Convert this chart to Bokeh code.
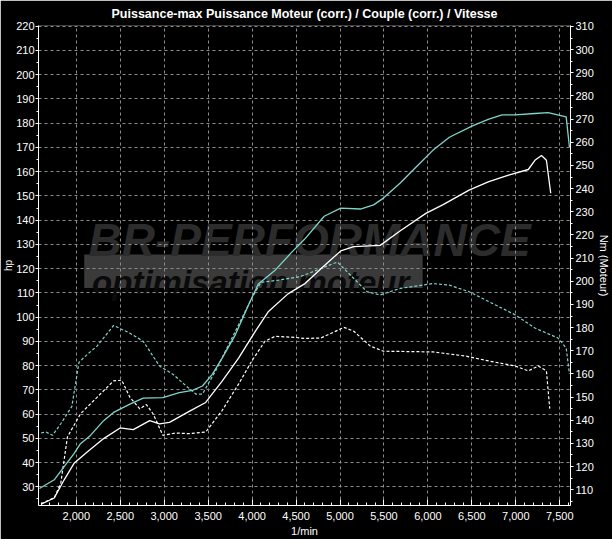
from bokeh.plotting import figure
from bokeh.models import Range1d, LinearAxis, FixedTicker, NumeralTickFormatter, Title
from bokeh.embed import file_html
from bokeh.resources import INLINE
from bokeh.core.properties import value

# ---------------- data ----------------
title_text = "Puissance-max Puissance Moteur (corr.) / Couple (corr.) / Vitesse"
x_label = "1/min"
left_label = "hp"
right_label = "Nm (Moteur)"
rpm_ticks = [2000, 2500, 3000, 3500, 4000, 4500, 5000, 5500, 6000, 6500, 7000, 7500]
hp_ticks = [30, 40, 50, 60, 70, 80, 90, 100, 110, 120, 130, 140, 150, 160, 170, 180, 190, 200, 210, 220]
nm_ticks = [110, 120, 130, 140, 150, 160, 170, 180, 190, 200, 210, 220, 230, 240, 250, 260, 270, 280, 290, 300, 310]

# tuned power (cyan, solid) - hp
rpm_pw_tuned = [1581, 1749, 1862, 1974, 2048, 2161, 2311, 2424, 2610, 2761, 2985, 3172, 3322, 3435, 3547,
                3659, 3809, 3958, 4071, 4258, 4446, 4596, 4820, 5008, 5232, 5382, 5494, 5682, 5869, 6056,
                6244, 6506, 6693, 6843, 6993, 7217, 7367, 7573, 7610]
hp_tuned = [29.3, 32.9, 38.3, 43.7, 47.8, 51.2, 57.3, 60.7, 64.1, 66.6, 66.8, 68.9, 69.8, 71.6, 76.4,
            83.1, 92.7, 104.9, 113.7, 119.2, 126.6, 132.1, 141.6, 145.0, 144.6, 146.3, 149.1, 155.2, 162.0, 168.8,
            174.2, 178.9, 181.7, 183.4, 183.4, 184.0, 184.4, 182.6, 170.1]

# stock power (white, solid) - hp
rpm_pw_stock = [1599, 1749, 1862, 1974, 2124, 2311, 2498, 2648, 2835, 2947, 3060, 3284, 3472, 3659, 3846,
                4034, 4183, 4408, 4596, 4820, 5008, 5157, 5457, 5682, 5981, 6168, 6468, 6693, 6918, 7142,
                7217, 7292, 7348, 7397]
hp_stock = [22.8, 25.4, 32.9, 39.7, 44.4, 49.9, 54.3, 53.6, 57.3, 56.0, 56.6, 61.1, 64.8, 73.6, 83.1,
            94.0, 102.2, 109.6, 113.7, 121.2, 127.3, 129.1, 129.6, 135.5, 142.9, 146.3, 152.4, 155.9, 158.6, 160.9,
            164.7, 166.7, 164.7, 151.1]

# tuned torque (cyan, dashed) - Nm
rpm_tq_tuned = [1599, 1655, 1730, 1824, 1950, 2030, 2124, 2236, 2424, 2610, 2761, 2947, 3098, 3247, 3360,
                3435, 3584, 3809, 4000, 4100, 4300, 4550, 4780, 4970, 5120, 5307, 5457, 5682, 6056, 6244,
                6468, 6693, 6993, 7217, 7480, 7573, 7610]
nm_tuned = [134.5, 134.9, 133.5, 138.5, 146.0, 165.0, 168.4, 172.0, 180.9, 177.6, 174.1, 163.4, 159.9, 154.9, 151.3,
            151.3, 161.3, 178.4, 193.0, 199.5, 200.5, 202.0, 205.5, 208.3, 202.6, 195.5, 194.1, 196.9, 199.0, 198.3,
            195.5, 191.2, 185.5, 179.8, 175.5, 171.2, 160.0]

# stock torque (white, dashed) - Nm
rpm_tq_stock = [1599, 1749, 1824, 1899, 2048, 2236, 2424, 2517, 2610, 2722, 2797, 2873, 2985, 3135, 3284,
                3472, 3659, 3846, 3997, 4146, 4258, 4483, 4596, 4783, 5045, 5157, 5345, 5494, 6056, 6430,
                6693, 6993, 7142, 7255, 7348, 7386]
nm_stock = [104.0, 106.5, 112.9, 132.8, 142.8, 149.9, 157.0, 157.3, 149.9, 144.9, 146.8, 142.8, 133.5, 134.5, 134.2,
            134.9, 144.2, 155.6, 165.6, 174.1, 176.2, 175.8, 175.3, 175.5, 180.1, 178.4, 172.0, 169.8, 169.5, 167.7,
            165.6, 163.4, 161.3, 163.4, 161.3, 145.0]

# watermark texts
wm_big = "BR-PERFORMANCE"
wm_small = "optimisation moteur"

# ---------------- styling ----------------
FONT = "Liberation Sans"
CYAN = "#7fd4cb"
GRID = "#8c8c8c"
Y_LO, Y_HI = 22.3, 220.3

p = figure(width=612, height=539, output_backend="svg", toolbar_location=None,
           x_range=Range1d(1570, 7622), y_range=Range1d(Y_LO, Y_HI),
           background_fill_color="black", border_fill_color="black",
           outline_line_color=None,
           min_border_left=31, min_border_right=0, min_border_top=21, min_border_bottom=33)
p.extra_y_ranges = {"nm": Range1d(103.2, 310.4)}

p.title.text = title_text
p.title.text_color = "white"
p.title.align = "center"
p.title.text_font = FONT
p.title.text_font_size = "12.5px"
p.title.text_font_style = "bold"
p.title.standoff = 9

# left axis title as a side title (compact)
p.add_layout(Title(text=left_label, align="center", text_color="white", text_font=FONT,
                   text_font_size="10px", text_font_style="normal", standoff=0), "left")

# watermark (below grid)
p.quad(left=[2090], right=[5940], bottom=[112.0], top=[125.8], fill_color="#3a3a3a",
       line_color=None, level="image")
p.text(x=[2140], y=[131.8], text=[wm_big], text_color="#2c2c2c", text_font=value("Liberation Sans"),
       text_font_style="bold italic", text_font_size="46px", text_baseline="alphabetic", level="image")
p.text(x=[2180], y=[114.3], text=[wm_small], text_color="#0a0a0a", text_font=value("Liberation Sans"),
       text_font_style="bold italic", text_font_size="33px", text_baseline="alphabetic", level="image")

# axes
xa = p.xaxis[0]
xa.ticker = FixedTicker(ticks=rpm_ticks, minor_ticks=list(range(1600, 7700, 100)))
xa.formatter = NumeralTickFormatter(format="0,0")
xa.axis_label = x_label

ya = p.yaxis[0]
ya.ticker = FixedTicker(ticks=hp_ticks, minor_ticks=list(range(25, 225, 5)))

ra = LinearAxis(y_range_name="nm", axis_label=right_label,
                ticker=FixedTicker(ticks=nm_ticks, minor_ticks=list(range(105, 315, 5))))
p.add_layout(ra, "right")

for ax in (xa, ya, ra):
    ax.axis_line_color = "white"
    ax.major_tick_line_color = "white"
    ax.minor_tick_line_color = "white"
    ax.major_label_text_color = "white"
    ax.major_label_text_font = FONT
    ax.major_label_text_font_size = "11px"
    ax.axis_label_text_color = "white"
    ax.axis_label_text_font = FONT
    ax.axis_label_text_font_size = "11px"
    ax.axis_label_text_font_style = "normal"
    ax.axis_label_standoff = 1
    ax.major_label_standoff = 2

ya.major_label_standoff = 1
xa.major_label_standoff = 6
xa.axis_label_standoff = 2
xa.major_tick_in = 6
xa.major_tick_out = 0
xa.minor_tick_in = 3
xa.minor_tick_out = 0
for ax in (ya, ra):
    ax.major_tick_in = 0
    ax.major_tick_out = 3
    ax.minor_tick_in = 0
    ax.minor_tick_out = 2

# grid
p.xgrid.ticker = FixedTicker(ticks=rpm_ticks)
p.ygrid.ticker = FixedTicker(ticks=hp_ticks)
for g in (p.xgrid, p.ygrid):
    g.grid_line_color = GRID
    g.grid_line_dash = "3 3"
    g.grid_line_width = 1

# curves
p.line(rpm_tq_stock, nm_stock, y_range_name="nm", line_color="white", line_width=1.2, line_dash="3 2")
p.line(rpm_tq_tuned, nm_tuned, y_range_name="nm", line_color=CYAN, line_width=1.2, line_dash="3 2")
p.line(rpm_pw_stock, hp_stock, line_color="white", line_width=1.3)
p.line(rpm_pw_tuned, hp_tuned, line_color=CYAN, line_width=1.3)

open("out.html", "w").write(file_html(p, INLINE))
